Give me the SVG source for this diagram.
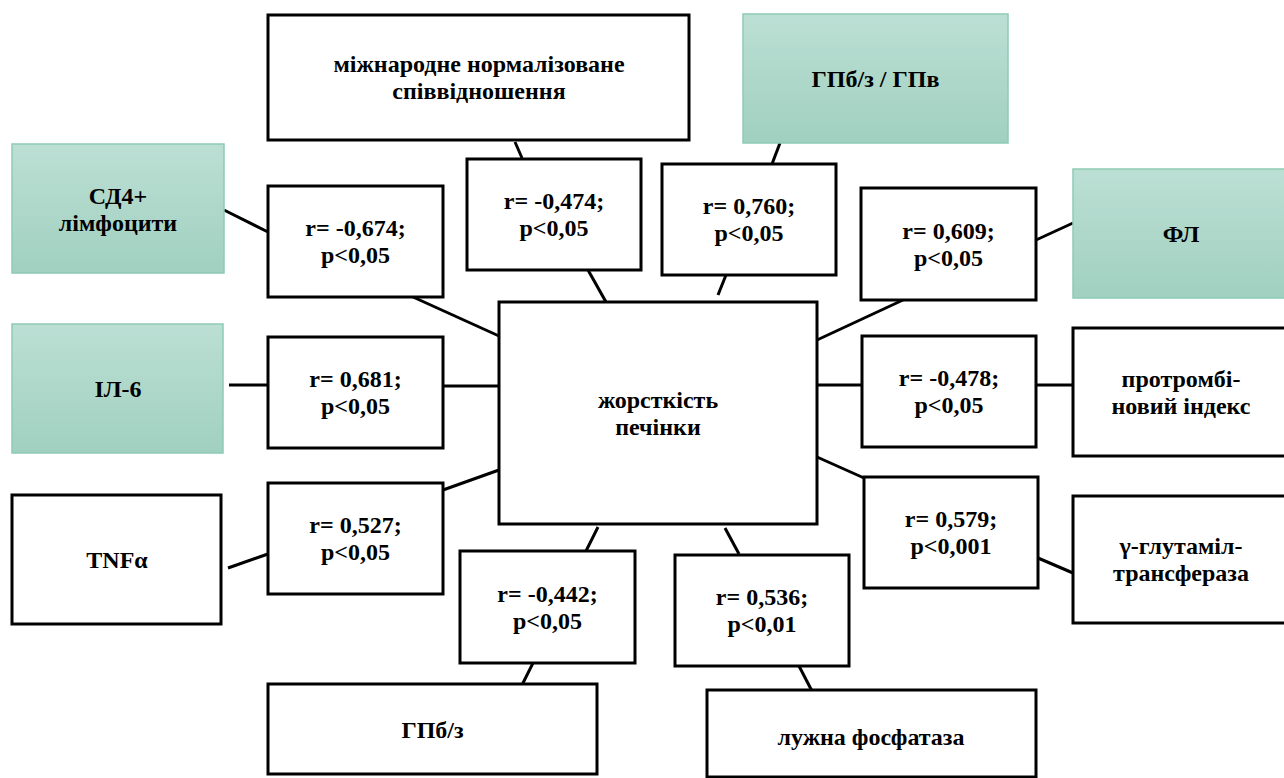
<svg xmlns="http://www.w3.org/2000/svg" width="1284" height="778" viewBox="0 0 1284 778">
<defs>
<linearGradient id="mint" x1="0" y1="0" x2="0" y2="1">
<stop offset="0" stop-color="#bcdfd4"/>
<stop offset="1" stop-color="#a0d0c0"/>
</linearGradient>
</defs>
<style>
.box{fill:#fff;stroke:#000;stroke-width:3}
.green{fill:url(#mint);stroke:#8ecbb4;stroke-width:1.5}
.t{font-family:"Liberation Serif","Times New Roman",serif;font-weight:bold;font-size:24px;fill:#000;text-anchor:middle}
.c line{stroke:#000;stroke-width:3}
</style>
<rect width="1284" height="778" fill="#fff"/>
<g class="c" id="connectors">
<line x1="224" y1="210" x2="268" y2="232"/>
<line x1="413" y1="297" x2="499" y2="336"/>
<line x1="515" y1="142" x2="522" y2="158"/>
<line x1="588" y1="270" x2="606" y2="302"/>
<line x1="780" y1="143" x2="772" y2="164"/>
<line x1="726" y1="275" x2="718" y2="295"/>
<line x1="1073" y1="223" x2="1036" y2="240"/>
<line x1="903" y1="300" x2="817" y2="340"/>
<line x1="1036" y1="385" x2="1072" y2="385"/>
<line x1="862" y1="385" x2="815" y2="385"/>
<line x1="1038" y1="558" x2="1073" y2="573"/>
<line x1="864" y1="478" x2="817" y2="457"/>
<line x1="229" y1="385" x2="268" y2="385"/>
<line x1="443" y1="386" x2="499" y2="386"/>
<line x1="228" y1="568" x2="268" y2="554"/>
<line x1="443" y1="490" x2="499" y2="470"/>
<line x1="598" y1="527" x2="586" y2="551"/>
<line x1="533" y1="663" x2="520" y2="689"/>
<line x1="725" y1="528" x2="739" y2="554"/>
<line x1="799" y1="666" x2="813" y2="693"/>
</g>
<g id="central"><rect class="box" x="499" y="302" width="318" height="222"/><text class="t" x="658" y="408">жорсткість</text><text class="t" x="658" y="435">печінки</text></g>
<g id="inr"><rect class="box" x="268" y="15" width="421" height="125"/><text class="t" x="479" y="72">міжнародне нормалізоване</text><text class="t" x="479" y="99">співвідношення</text></g>
<g id="gpbz-gpv"><rect class="green" x="743" y="14" width="265" height="129"/><text class="t" x="875.5" y="87">ГПб/з / ГПв</text></g>
<g id="cd4"><rect class="green" x="12" y="144" width="212" height="129"/><text class="t" x="118" y="204">СД4+</text><text class="t" x="118" y="231">лімфоцити</text></g>
<g id="fl"><rect class="green" x="1073" y="169" width="213" height="129"/><text class="t" x="1181" y="242">ФЛ</text></g>
<g id="il6"><rect class="green" x="12" y="324" width="211" height="129"/><text class="t" x="118" y="397">ІЛ-6</text></g>
<g id="pti"><rect class="box" x="1073" y="328" width="214" height="128"/><text class="t" x="1181" y="387">протромбі-</text><text class="t" x="1181" y="414">новий індекс</text></g>
<g id="tnf"><rect class="box" x="12" y="495" width="209" height="129"/><text class="t" x="117" y="568">TNFα</text></g>
<g id="ggt"><rect class="box" x="1073" y="496" width="214" height="127"/><text class="t" x="1181" y="554">γ-глутаміл-</text><text class="t" x="1181" y="581">трансфераза</text></g>
<g id="gpbz"><rect class="box" x="268" y="684" width="329" height="90"/><text class="t" x="432.5" y="738">ГПб/з</text></g>
<g id="alp"><rect class="box" x="707" y="690" width="329" height="87"/><text class="t" x="871" y="745">лужна фосфатаза</text></g>
<g id="r-cd4"><rect class="box" x="268" y="186" width="175" height="111"/><text class="t" x="355.5" y="236">r= -0,674;</text><text class="t" x="355.5" y="263">p&lt;0,05</text></g>
<g id="r-inr"><rect class="box" x="467" y="159" width="174" height="111"/><text class="t" x="554" y="209">r= -0,474;</text><text class="t" x="554" y="236">p&lt;0,05</text></g>
<g id="r-gpv"><rect class="box" x="662" y="164" width="174" height="111"/><text class="t" x="749" y="214">r= 0,760;</text><text class="t" x="749" y="241">p&lt;0,05</text></g>
<g id="r-fl"><rect class="box" x="861" y="188" width="175" height="112"/><text class="t" x="948.5" y="239">r= 0,609;</text><text class="t" x="948.5" y="266">p&lt;0,05</text></g>
<g id="r-il6"><rect class="box" x="268" y="337" width="175" height="111"/><text class="t" x="355.5" y="387">r= 0,681;</text><text class="t" x="355.5" y="414">p&lt;0,05</text></g>
<g id="r-pti"><rect class="box" x="862" y="336" width="174" height="111"/><text class="t" x="949" y="386">r= -0,478;</text><text class="t" x="949" y="413">p&lt;0,05</text></g>
<g id="r-tnf"><rect class="box" x="268" y="483" width="175" height="111"/><text class="t" x="355.5" y="533">r= 0,527;</text><text class="t" x="355.5" y="560">p&lt;0,05</text></g>
<g id="r-ggt"><rect class="box" x="864" y="477" width="174" height="111"/><text class="t" x="951" y="527">r= 0,579;</text><text class="t" x="951" y="554">p&lt;0,001</text></g>
<g id="r-gpbz"><rect class="box" x="460" y="551" width="175" height="112"/><text class="t" x="547.5" y="602">r= -0,442;</text><text class="t" x="547.5" y="629">p&lt;0,05</text></g>
<g id="r-alp"><rect class="box" x="675" y="555" width="174" height="111"/><text class="t" x="762" y="605">r= 0,536;</text><text class="t" x="762" y="632">p&lt;0,01</text></g>
</svg>
